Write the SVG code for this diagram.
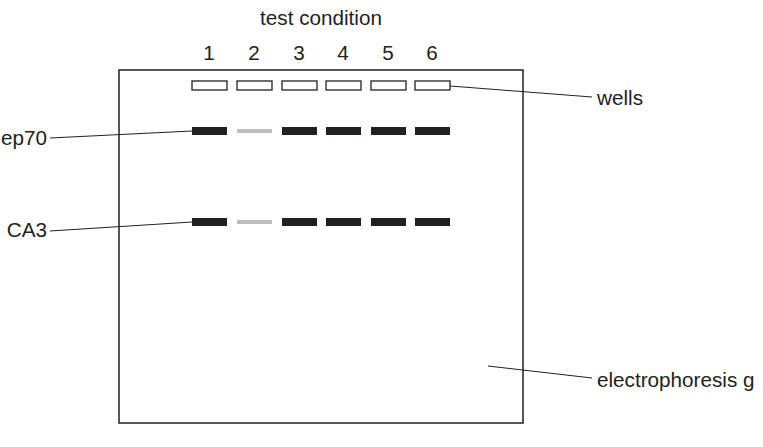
<svg xmlns="http://www.w3.org/2000/svg" width="763" height="447" viewBox="0 0 763 447">
<style>
text{font-family:"Liberation Sans",Arial,sans-serif;font-size:20.7px;fill:#231f20}
.well{fill:#fff;stroke:#231f20;stroke-width:1.3}
.band{fill:#231f20}
.faint{fill:#bdbdbd}
.ln{stroke:#231f20;stroke-width:1;fill:none}
</style>
<rect width="763" height="447" fill="#fff"/>
<g id="title"><text x="321" y="25" text-anchor="middle">test condition</text></g>
<g id="lanes" text-anchor="middle">
<text x="209" y="60">1</text><text x="254" y="60">2</text><text x="299" y="60">3</text><text x="343" y="60">4</text><text x="388" y="60">5</text><text x="432" y="60">6</text>
</g>
<g id="gel"><rect x="119" y="70" width="404" height="353" fill="none" stroke="#231f20" stroke-width="1.5"/></g>
<g id="wells">
<rect class="well" x="192" y="81" width="35" height="9"/><rect class="well" x="237" y="81" width="35" height="9"/><rect class="well" x="282" y="81" width="35" height="9"/><rect class="well" x="326" y="81" width="35" height="9"/><rect class="well" x="371" y="81" width="35" height="9"/><rect class="well" x="415" y="81" width="35" height="9"/>
</g>
<g id="bands1">
<rect class="band" x="192" y="127" width="35" height="8"/><rect class="faint" x="237" y="129" width="35" height="4"/><rect class="band" x="282" y="127" width="35" height="8"/><rect class="band" x="326" y="127" width="35" height="8"/><rect class="band" x="371" y="127" width="35" height="8"/><rect class="band" x="415" y="127" width="35" height="8"/>
</g>
<g id="bands2">
<rect class="band" x="192" y="218" width="35" height="8"/><rect class="faint" x="237" y="220" width="35" height="4"/><rect class="band" x="282" y="218" width="35" height="8"/><rect class="band" x="326" y="218" width="35" height="8"/><rect class="band" x="371" y="218" width="35" height="8"/><rect class="band" x="415" y="218" width="35" height="8"/>
</g>
<g id="labels">
<text x="47" y="145" text-anchor="end">ep70</text>
<text x="47" y="237" text-anchor="end">CA3</text>
<text x="597" y="105">wells</text>
<text x="597" y="387">electrophoresis g</text>
</g>
<g id="connectors">
<line class="ln" x1="50" y1="138" x2="192" y2="131"/>
<line class="ln" x1="50" y1="231" x2="192" y2="222"/>
<line class="ln" x1="450" y1="86" x2="592" y2="97"/>
<line class="ln" x1="488" y1="366" x2="592" y2="378"/>
</g>
</svg>
